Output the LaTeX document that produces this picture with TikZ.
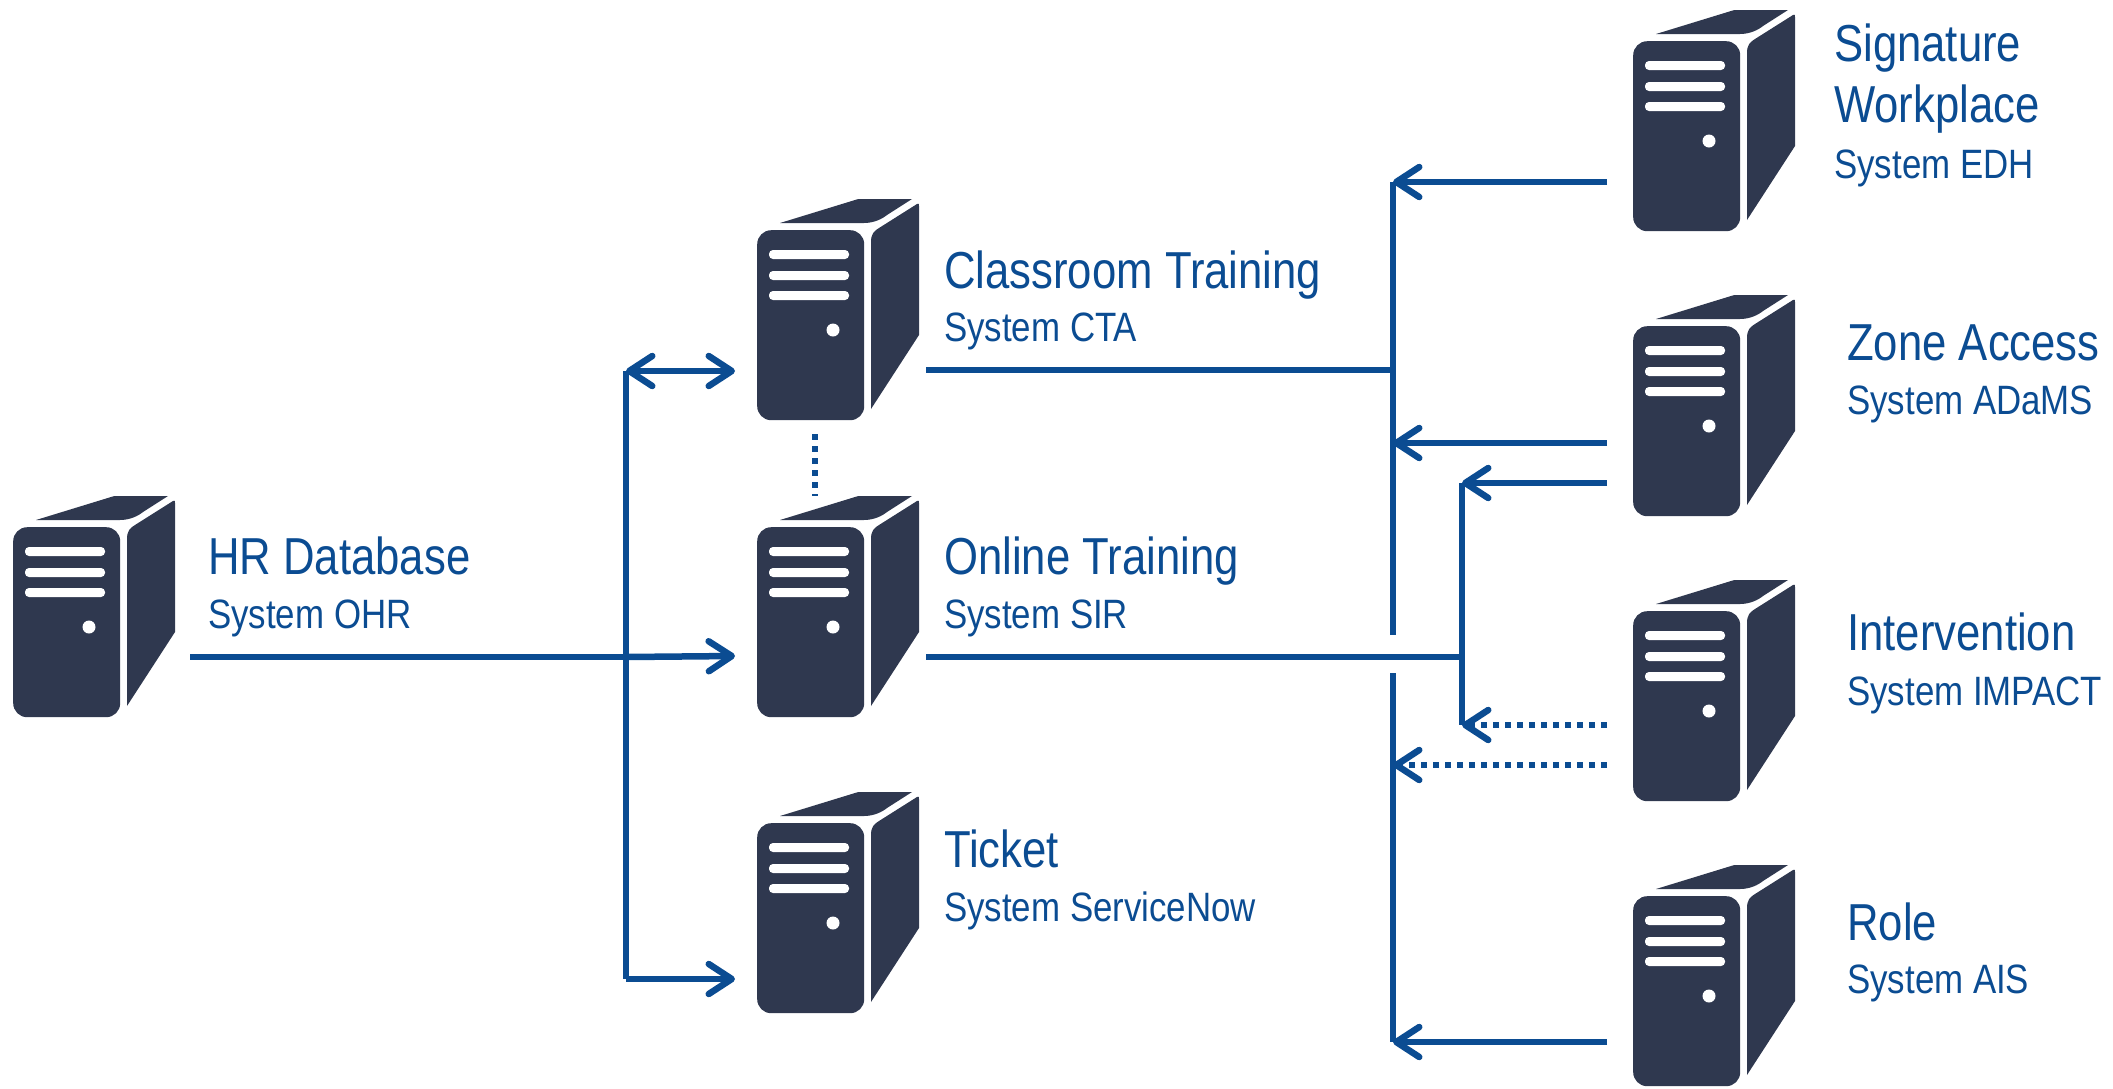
\documentclass[tikz,border=0pt]{standalone}
\usepackage{fontspec}
\usetikzlibrary{arrows.meta}
\newfontfamily\titlefont[FakeStretch=0.84]{Liberation Sans}
\newfontfamily\subfont[FakeStretch=0.85]{Liberation Sans}
\definecolor{linkblue}{HTML}{0B4C92}
\definecolor{towerdark}{HTML}{2F384F}
\newcommand{\titlesize}{\fontsize{52}{62}\selectfont}
\newcommand{\subsize}{\fontsize{41}{48}\selectfont}

\tikzset{
    frontbox/.style={rectangle,fill=towerdark,anchor=north west,inner sep=0pt,
        minimum width=107pt,minimum height=190pt,rounded corners=14pt},
    pics/server/.style={code={
        \node[frontbox] (-front) at (0,0) {};
        \fill[white,rounded corners=4pt] (12,20) rectangle (92,29);
        \fill[white,rounded corners=4pt] (12,41) rectangle (92,50);
        \fill[white,rounded corners=4pt] (12,61) rectangle (92,70);
        \fill[white] (76,100) circle (6.5);
        \fill[towerdark] (23,-7) -- (98,-30) .. controls (100,-31) and (102,-31) .. (104,-31)
            -- (155,-31) -- (130,-15) .. controls (125,-11) and (117,-7) .. (107,-7) -- cycle;
        \fill[towerdark] (114,12) .. controls (114,4) and (117,1) .. (122,-2) -- (160,-26)
            .. controls (162,-27) and (162,-26) .. (162,-24) -- (162,105) -- (114,179) -- cycle;
    }},
    title/.style={anchor=base west,inner sep=0pt,text=linkblue,font=\titlefont\titlesize,align=left},
    subtitle/.style={anchor=base west,inner sep=0pt,text=linkblue,font=\subfont\subsize},
    link/.style={draw=linkblue,line width=6.5pt},
    linkdots/.style={link,dash pattern=on 6pt off 6pt},
    >={Straight Barb[length=23pt,width=30pt,round,line width=6.5pt]}
}

\begin{document}
\begin{tikzpicture}[x=1pt,y=-1pt]
    \useasboundingbox (0,0) rectangle (2113,1088);

    % servers
    \foreach \name/\x/\y in {hr/13/527,cta/757/230,sir/757/527,ticket/757/823,
        edh/1633/41,adams/1633/326,impact/1633/611,ais/1633/896}
        \pic (\name) at (\x,\y) {server};

    % labels
    \node[title] (hrname) at (208,574) {HR Database};
    \node[subtitle] (hrsys) at (208,628) {System OHR};
    \node[title] (ctaname) at (944,288) {Classroom Training};
    \node[subtitle] (ctasys) at (944,341) {System CTA};
    \node[title] (sirname) at (944,574) {Online Training};
    \node[subtitle] (sirsys) at (944,628) {System SIR};
    \node[title] (ticketname) at (944,867) {Ticket};
    \node[subtitle] (ticketsys) at (944,921) {System ServiceNow};
    \node[title] (edhname) at (1834,61) {Signature};
    \node[title] (edhname2) at (1834,122) {Workplace};
    \node[subtitle] (edhsys) at (1834,178) {System EDH};
    \node[title] (adamsname) at (1847,360) {Zone Access};
    \node[subtitle] (adamssys) at (1847,414) {System ADaMS};
    \node[title] (impactname) at (1847,650) {Intervention};
    \node[subtitle] (impactsys) at (1847,705) {System IMPACT};
    \node[title] (aisname) at (1847,940) {Role};
    \node[subtitle] (aissys) at (1847,993) {System AIS};

    % ends of the connectors
    \coordinate (hrout) at (190,657);
    \coordinate (splittop) at (626,371);
    \coordinate (splitmid) at (626,657);
    \coordinate (splitlow) at (626,979);
    \coordinate (ctain) at (735,371);
    \coordinate (sirin) at (735,656);
    \coordinate (ticketin) at (735,979);
    \coordinate (ctaout) at (926,370);
    \coordinate (sirout) at (926,657);
    \coordinate (dotstop) at (815,434);
    \coordinate (dotsend) at (815,496);
    \coordinate (bustop) at (1393,182);
    \coordinate (busgap) at (1393,635);
    \coordinate (busresume) at (1393,673);
    \coordinate (buslow) at (1393,1042);
    \coordinate (busadams) at (1393,443);
    \coordinate (busimpact) at (1393,765);
    \coordinate (buscta) at (1393,370);
    \coordinate (subtop) at (1462,483);
    \coordinate (submid) at (1462,657);
    \coordinate (sublow) at (1462,725);
    \coordinate (edhout) at (1607,182);
    \coordinate (adamsoutA) at (1607,443);
    \coordinate (adamsoutB) at (1607,483);
    \coordinate (impactoutA) at (1607,725);
    \coordinate (impactoutB) at (1607,765);
    \coordinate (aisout) at (1607,1042);

    % left side
    \path[link] (hrout) -- (splitmid);
    \path[link,->] (splitmid) -- (sirin);
    \path[link] (splittop) -- (splitlow);
    \path[link,<->] (splittop) -- (ctain);
    \path[link,->] (splitlow) -- (ticketin);
    \path[linkdots] (dotstop) -- (dotsend);

    % right side
    \path[link] (ctaout) -- (buscta);
    \path[link] (sirout) -- (submid);
    \path[link] (bustop) -- (busgap);
    \path[link] (busresume) -- (buslow);
    \path[link] (subtop) -- (sublow);
    \path[link,->] (edhout) -- (bustop);
    \path[link,->] (adamsoutA) -- (busadams);
    \path[link,->] (adamsoutB) -- (subtop);
    \path[linkdots,->] (impactoutA) -- (sublow);
    \path[linkdots,->] (impactoutB) -- (busimpact);
    \path[link,->] (aisout) -- (buslow);
\end{tikzpicture}
\end{document}
